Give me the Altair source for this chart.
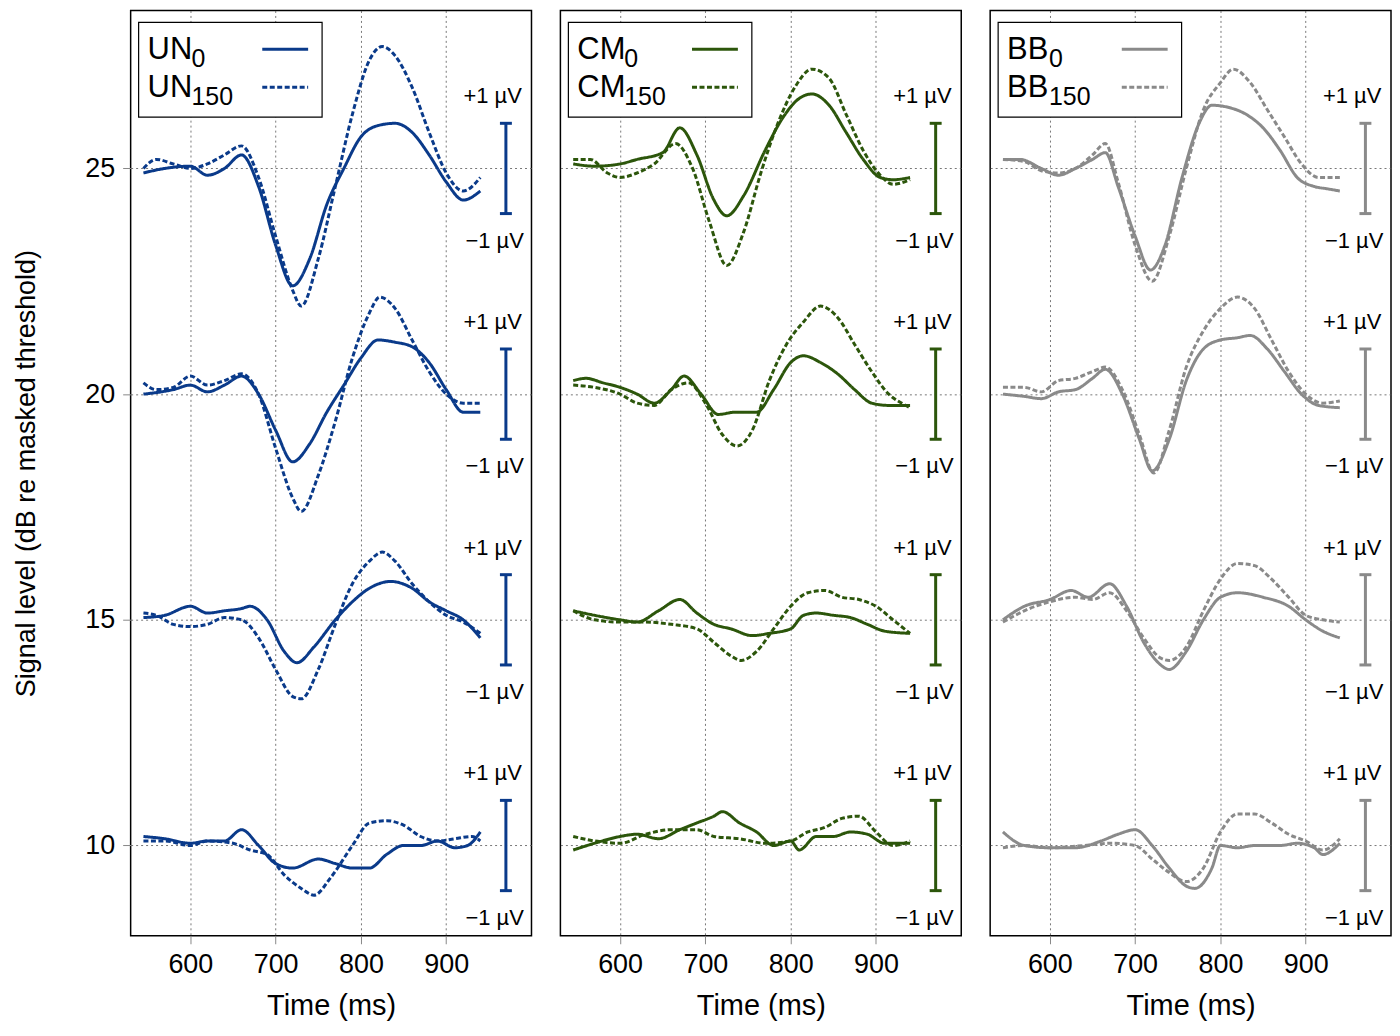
import altair as alt
import pandas as pd

FONT = "Liberation Sans"

# ---- data: (panel, level) -> times / solid (0 ms delay) / dashed (150 ms delay)
UN = {
    25: ([545, 570, 600, 620, 640, 660, 680, 700, 720, 740, 760, 780, 800, 820, 840, 860, 880, 900, 920, 940],
         [24.9, 25.0, 25.05, 24.85, 25.0, 25.3, 24.6, 23.3, 22.4, 23.0, 24.2, 25.0, 25.7, 25.95, 26.0, 25.8, 25.3, 24.7, 24.3, 24.5]),
    20: ([545, 580, 600, 620, 640, 660, 680, 700, 720, 740, 760, 780, 800, 820, 840, 860, 880, 900, 920, 940],
         [20.0, 20.1, 20.2, 20.05, 20.2, 20.4, 20.0, 19.2, 18.5, 18.9, 19.6, 20.2, 20.8, 21.2, 21.15, 21.05, 20.7, 20.1, 19.6, 19.6]),
    15: ([545, 570, 600, 620, 640, 660, 670, 690, 710, 725, 745, 770, 790, 810, 835, 860, 880, 900, 920, 940],
         [15.05, 15.1, 15.3, 15.15, 15.2, 15.25, 15.3, 15.0, 14.3, 14.05, 14.4, 15.0, 15.4, 15.7, 15.85, 15.7, 15.4, 15.2, 15.0, 14.6]),
    10: ([545, 570, 600, 620, 640, 660, 680, 700, 720, 750, 770, 790, 810, 830, 850, 870, 890, 910, 925, 940],
         [10.2, 10.15, 10.05, 10.1, 10.1, 10.35, 10.0, 9.6, 9.5, 9.7, 9.6, 9.5, 9.5, 9.8, 10.0, 10.0, 10.1, 9.95, 10.0, 10.3]),
}
UN_D = {
    25: ([545, 560, 580, 600, 620, 640, 660, 680, 700, 720, 730, 750, 770, 790, 810, 825, 840, 860, 880, 900, 920, 940],
         [25.0, 25.2, 25.1, 25.0, 25.1, 25.3, 25.5, 24.8, 23.5, 22.3, 21.95, 23.0, 24.6, 26.2, 27.4, 27.7, 27.5, 26.8, 25.8, 24.9, 24.5, 24.8]),
    20: ([545, 560, 580, 600, 620, 640, 660, 680, 700, 720, 730, 750, 770, 790, 810, 822, 840, 860, 880, 900, 920, 940],
         [20.25, 20.1, 20.15, 20.4, 20.2, 20.3, 20.45, 20.0, 18.8, 17.7, 17.4, 18.2, 19.4, 20.8, 21.8, 22.15, 21.9, 21.2, 20.5, 20.0, 19.8, 19.8]),
    15: ([545, 560, 580, 600, 620, 640, 660, 680, 700, 720, 730, 750, 770, 790, 810, 825, 840, 860, 880, 900, 920, 940],
         [15.15, 15.1, 14.9, 14.85, 14.9, 15.05, 15.0, 14.6, 13.9, 13.3, 13.25, 13.9, 14.9, 15.8, 16.3, 16.5, 16.3, 15.8, 15.4, 15.1, 14.95, 14.7]),
    10: ([545, 570, 600, 620, 650, 670, 690, 710, 730, 745, 765, 790, 810, 830, 850, 870, 890, 910, 930, 940],
         [10.1, 10.1, 10.0, 10.1, 10.05, 9.9, 9.8, 9.35, 9.05, 8.9, 9.3, 10.0, 10.5, 10.55, 10.45, 10.2, 10.1, 10.15, 10.2, 10.1]),
}
CM = {
    25: ([545, 570, 600, 620, 650, 670, 690, 710, 725, 745, 770, 790, 810, 825, 845, 865, 885, 905, 920, 940],
         [25.1, 25.05, 25.1, 25.2, 25.35, 25.9, 25.3, 24.3, 23.95, 24.4, 25.4, 26.1, 26.55, 26.65, 26.4, 25.8, 25.2, 24.8, 24.75, 24.8]),
    20: ([545, 560, 580, 600, 620, 640, 660, 675, 695, 715, 735, 760, 780, 800, 815, 835, 855, 875, 895, 915, 940],
         [20.3, 20.35, 20.25, 20.15, 20.0, 19.8, 20.1, 20.4, 20.0, 19.55, 19.6, 19.6, 20.1, 20.7, 20.85, 20.7, 20.45, 20.1, 19.8, 19.75, 19.75]),
    15: ([545, 570, 600, 620, 645, 670, 690, 710, 730, 755, 775, 800, 815, 830, 850, 870, 890, 910, 940],
         [15.2, 15.1, 15.0, 14.95, 15.2, 15.45, 15.15, 14.9, 14.8, 14.65, 14.7, 14.8, 15.1, 15.15, 15.1, 15.05, 14.9, 14.75, 14.7]),
    10: ([545, 570, 600, 620, 645, 670, 690, 710, 720, 740, 760, 780, 800, 810, 830, 850, 870, 890, 910, 940],
         [9.9, 10.05, 10.2, 10.25, 10.15, 10.35, 10.5, 10.65, 10.75, 10.5, 10.3, 10.0, 10.1, 9.9, 10.2, 10.2, 10.3, 10.25, 10.05, 10.05]),
}
CM_D = {
    25: ([545, 565, 585, 600, 620, 640, 665, 685, 705, 725, 745, 765, 785, 805, 825, 845, 865, 885, 905, 920, 940],
         [25.2, 25.2, 24.9, 24.8, 24.9, 25.1, 25.55, 25.0, 23.8, 22.85, 23.6, 24.9, 26.0, 26.8, 27.2, 27.0, 26.2, 25.4, 24.85, 24.65, 24.75]),
    20: ([545, 570, 600, 620, 640, 660, 680, 700, 720, 737, 755, 775, 795, 815, 835, 855, 875, 895, 915, 930, 940],
         [20.2, 20.15, 20.0, 19.8, 19.75, 20.1, 20.25, 19.8, 19.1, 18.85, 19.2, 20.3, 21.1, 21.6, 21.95, 21.7, 21.1, 20.5, 20.0, 19.8, 19.7]),
    15: ([545, 570, 600, 630, 660, 690, 710, 730, 742, 760, 780, 800, 820, 840, 860, 880, 900, 920, 940],
         [15.2, 15.0, 14.95, 14.95, 14.9, 14.8, 14.5, 14.2, 14.1, 14.3, 14.8, 15.3, 15.6, 15.65, 15.5, 15.45, 15.3, 15.0, 14.7]),
    10: ([545, 570, 600, 630, 660, 690, 710, 740, 770, 800, 820, 840, 860, 880, 900, 920, 940],
         [10.2, 10.1, 10.05, 10.25, 10.35, 10.35, 10.2, 10.15, 10.05, 10.1, 10.3, 10.4, 10.6, 10.65, 10.3, 10.0, 10.1]),
}
BB = {
    25: ([545, 565, 590, 610, 630, 650, 665, 680, 700, 718, 735, 755, 775, 790, 810, 830, 850, 870, 890, 910, 925, 940],
         [25.2, 25.2, 25.0, 24.85, 25.0, 25.2, 25.35, 24.6, 23.5, 22.75, 23.3, 24.8, 26.0, 26.4, 26.35, 26.2, 25.9, 25.4, 24.8, 24.6, 24.55, 24.5]),
    20: ([545, 570, 590, 610, 630, 650, 665, 685, 705, 720, 740, 760, 780, 800, 820, 835, 855, 875, 895, 915, 940],
         [20.0, 19.95, 19.9, 20.05, 20.1, 20.35, 20.55, 20.0, 19.0, 18.3, 19.0, 20.3, 21.0, 21.2, 21.25, 21.3, 21.0, 20.5, 20.0, 19.75, 19.7]),
    15: ([545, 570, 600, 625, 645, 670, 690, 710, 730, 740, 760, 780, 800, 820, 850, 880, 900, 920, 940],
         [15.0, 15.3, 15.45, 15.65, 15.5, 15.8, 15.3, 14.5, 14.0, 13.9, 14.3, 15.0, 15.5, 15.6, 15.5, 15.3, 15.0, 14.75, 14.6]),
    10: ([545, 570, 600, 630, 660, 680, 700, 720, 740, 760, 770, 790, 800, 820, 840, 870, 890, 910, 920, 940],
         [10.3, 10.0, 9.95, 9.95, 10.1, 10.25, 10.35, 10.0, 9.5, 9.1, 9.05, 9.5, 10.0, 9.95, 10.0, 10.0, 10.05, 9.95, 9.8, 10.05]),
}
BB_D = {
    25: ([545, 570, 590, 610, 630, 650, 665, 680, 700, 720, 740, 760, 780, 800, 815, 835, 855, 875, 895, 915, 940],
         [25.2, 25.15, 24.95, 24.9, 25.0, 25.3, 25.55, 24.7, 23.3, 22.5, 23.5, 25.0, 26.3, 26.9, 27.2, 26.9, 26.3, 25.7, 25.1, 24.8, 24.8]),
    20: ([545, 570, 590, 610, 630, 650, 665, 685, 705, 722, 740, 760, 780, 800, 820, 840, 860, 880, 900, 920, 940],
         [20.15, 20.15, 20.05, 20.3, 20.35, 20.5, 20.6, 20.1, 19.1, 18.25, 19.2, 20.6, 21.4, 21.9, 22.15, 21.9, 21.2, 20.5, 20.0, 19.8, 19.85]),
    15: ([545, 570, 600, 630, 650, 670, 690, 710, 730, 740, 760, 780, 800, 820, 840, 860, 880, 900, 920, 940],
         [14.95, 15.2, 15.4, 15.5, 15.45, 15.6, 15.2, 14.6, 14.15, 14.1, 14.4, 15.2, 15.9, 16.25, 16.2, 15.9, 15.5, 15.1, 15.0, 14.95]),
    10: ([545, 570, 600, 640, 670, 700, 720, 740, 760, 780, 800, 820, 840, 860, 880, 900, 920, 940],
         [9.95, 10.0, 9.95, 10.0, 10.05, 10.0, 9.7, 9.4, 9.2, 9.5, 10.3, 10.7, 10.7, 10.5, 10.25, 10.1, 9.9, 10.15]),
}

PANELS = [
    ("UN", "#0a3a8a", UN, UN_D, 44),
    ("CM", "#2c560b", CM, CM_D, 47),
    ("BB", "#8a8a8a", BB, BB_D, 42),
]
LEVELS = [25, 20, 15, 10]
BAR_T = 970  # scale bar position (ms)

W, H = 402, 928
xs = alt.Scale(domain=[530, 1000], nice=False)
ys = alt.Scale(domain=[8.0, 28.5], nice=False)
DASH = alt.Scale(domain=["0", "150"], range=[[1, 0], [5, 2.5]])


def panel(name, color, solid, dashed, sw, first):
    rows = []
    for lev in LEVELS:
        for cond, src in (("0", solid), ("150", dashed)):
            t, v = src[lev]
            for ti, vi in zip(t, v):
                rows.append({"t": ti, "v": vi, "key": f"{lev}-{cond}", "cond": cond})
    df = pd.DataFrame(rows)

    yaxis = alt.Axis(
        values=LEVELS, grid=True, gridDash=[2, 3], gridColor="#555", gridWidth=0.8,
        labels=first, ticks=first, title="Signal level (dB re masked threshold)" if first else None,
        labelFontSize=27, titleFontSize=27, titleFontWeight="normal", labelFont=FONT, titleFont=FONT,
        tickSize=8, labelPadding=8, titlePadding=44, domain=False,
    )
    xaxis = alt.Axis(
        values=[600, 700, 800, 900], grid=True, gridDash=[2, 3], gridColor="#555", gridWidth=0.8,
        title="Time (ms)", labelFontSize=27, titleFontSize=29, titleFontWeight="normal",
        labelFont=FONT, titleFont=FONT, tickSize=8, labelPadding=8, titlePadding=14, domain=False,
    )

    lines = alt.Chart(df).mark_line(interpolate="monotone", color=color, strokeWidth=3).encode(
        x=alt.X("t:Q", scale=xs, axis=xaxis),
        y=alt.Y("v:Q", scale=ys, axis=yaxis),
        detail="key:N",
        strokeDash=alt.StrokeDash("cond:N", scale=DASH, legend=None),
    )

    bars = pd.DataFrame({"t": [BAR_T] * 4, "lo": [l - 1 for l in LEVELS], "hi": [l + 1 for l in LEVELS],
                         "t0": [BAR_T - 7] * 4, "t1": [BAR_T + 7] * 4,
                         "up": [l + 1.6 for l in LEVELS], "dn": [l - 1.6 for l in LEVELS]})
    vbar = alt.Chart(bars).mark_rule(color=color, strokeWidth=3).encode(x="t:Q", y="lo:Q", y2="hi")
    cap1 = alt.Chart(bars).mark_rule(color=color, strokeWidth=3).encode(x="t0:Q", x2="t1", y="lo:Q")
    cap2 = alt.Chart(bars).mark_rule(color=color, strokeWidth=3).encode(x="t0:Q", x2="t1", y="hi:Q")
    tup = alt.Chart(bars).mark_text(text="+1 µV", fontSize=22, font=FONT, align="right", dx=16).encode(x="t:Q", y="up:Q")
    tdn = alt.Chart(bars).mark_text(text="\u22121 µV", fontSize=22, font=FONT, align="right", dx=18).encode(x="t:Q", y="dn:Q")

    # legend box
    box = alt.Chart(pd.DataFrame({"a": [0]})).mark_rect(fill="white", stroke="black", strokeWidth=1.2).encode(
        x=alt.value(8), x2=alt.value(192), y=alt.value(12), y2=alt.value(107))
    leg = pd.DataFrame({"y": [49, 87], "sub": ["0", "150"], "cond": ["0", "150"]})
    lab = alt.Chart(leg).mark_text(text=name, fontSize=31, font=FONT, align="left", baseline="alphabetic").encode(
        x=alt.value(17), y=alt.Y("y:Q", scale=None))
    sub = alt.Chart(leg).mark_text(fontSize=25, font=FONT, align="left", baseline="alphabetic", dy=8).encode(
        x=alt.value(17 + sw), y=alt.Y("y:Q", scale=None), text="sub:N")
    legline = alt.Chart(leg.assign(y=leg.y - 10)).mark_rule(color=color, strokeWidth=3).encode(
        x=alt.value(132), x2=alt.value(178), y=alt.Y("y:Q", scale=None),
        strokeDash=alt.StrokeDash("cond:N", scale=DASH, legend=None))

    return alt.layer(lines, vbar, cap1, cap2, tup, tdn, box, lab, sub, legline).properties(width=W, height=H)


charts = [panel(n, c, s, d, sw, i == 0) for i, (n, c, s, d, sw) in enumerate(PANELS)]
chart = (
    alt.hconcat(*charts, spacing=27)
    .properties(padding={"left": 4, "top": 0, "right": 0, "bottom": 0})
    .configure(background="white")
    .configure_view(stroke="black", strokeWidth=1.5)
)
chart.save("out.html", embed_options={"renderer": "svg", "actions": False})
